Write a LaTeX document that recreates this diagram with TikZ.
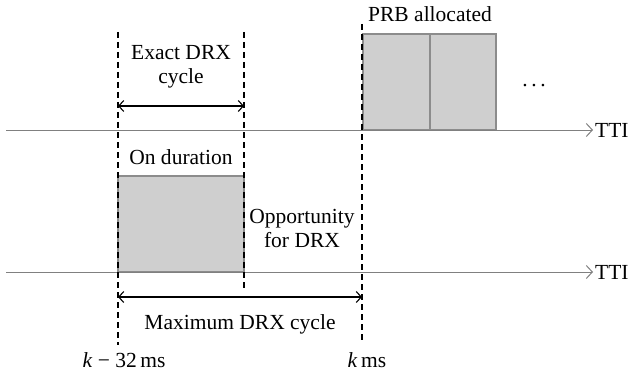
\documentclass[tikz,border=0pt]{standalone}
\usepackage{fontspec}
\setmainfont{Liberation Serif}
\usetikzlibrary{arrows.meta}
\begin{document}
\begin{tikzpicture}[x=1pt,y=-1pt,
  lbl/.style={font=\fontsize{21.5}{24}\selectfont, inner sep=0pt, align=center},
  axis/.style={draw=black!50, line width=1pt, -{Straight Barb[length=6pt,width=13pt]}},
  guide/.style={draw=black, line width=1.1pt, dash pattern=on 6pt off 4pt},
  span/.style={draw=black, line width=1.1pt, {Straight Barb[length=5pt,width=11pt]}-{Straight Barb[length=5pt,width=11pt]}},
  slot/.style={draw=black!45, line width=1.2pt, fill=black!19}
]
\useasboundingbox (0,0) rectangle (631,377);

% time axes
\coordinate (a1s) at (6,130);
\coordinate (a1e) at (593,130);
\coordinate (a2s) at (6,272);
\coordinate (a2e) at (593,272);

% PRB slots and on-duration slot
\draw[slot] (363,34) rectangle (430,130);
\draw[slot] (430,34) rectangle (496,130);
\draw[slot] (118,176) rectangle (244,272);

\draw[axis] (a1s) -- (a1e);
\draw[axis] (a2s) -- (a2e);
\node[lbl, anchor=west] (tti1) at (595,130) {TTI};
\node[lbl, anchor=west] (tti2) at (595,272) {TTI};

% dashed time markers
\coordinate (l1) at (118,32);
\coordinate (l2) at (118,345);
\coordinate (m1) at (244,32);
\coordinate (m2) at (244,291);
\coordinate (r1) at (362,24);
\coordinate (r2) at (362,340);
\draw[guide] (l1) -- (l2);
\draw[guide] (m1) -- (m2);
\draw[guide] (r1) -- (r2);

% cycle spans
\coordinate (e1) at (118,106);
\coordinate (e2) at (244,106);
\draw[span] (e1) -- (e2);
\coordinate (x1) at (118,297);
\coordinate (x2) at (362,297);
\draw[span] (x1) -- (x2);

% labels
\node[lbl] (exact) at (181,67) {Exact DRX\\cycle};
\node[lbl] (ondur) at (181,157) {On duration};
\node[lbl] (prb) at (430,14) {PRB allocated};
\node[lbl] (dots) at (534,86) {.\,.\,.};
\node[lbl] (opp) at (302,228) {Opportunity\\for DRX};
\node[lbl] (maxc) at (240,324) {Maximum DRX cycle};
\node[lbl] (kk) at (124,360) {\textit{k} − 32\,ms};
\node[lbl] (k) at (367,360) {\textit{k}\,ms};
\end{tikzpicture}
\end{document}
